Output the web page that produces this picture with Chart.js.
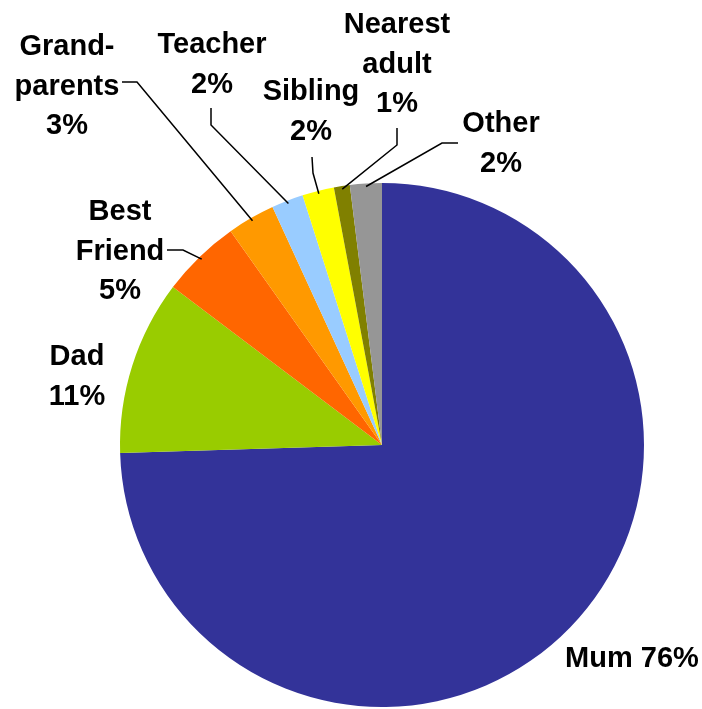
<!DOCTYPE html>
<html>
<head>
<meta charset="utf-8">
<script src="https://cdn.jsdelivr.net/npm/chart.js@4"></script>
<style>
  html, body { margin: 0; padding: 0; background: #fff; }
  #wrap { width: 702px; height: 709px; }
</style>
</head>
<body>
<div id="wrap"><canvas id="pie" width="702" height="709"></canvas></div>
<script>
// Dados do gráfico
const categories = ['Mum', 'Dad', 'Best Friend', 'Grandparents', 'Teacher', 'Sibling', 'Nearest adult', 'Other'];
const percentages = [76, 11, 5, 3, 2, 2, 1, 2];
const labelLines = [['Mum'], ['Dad'], ['Best', 'Friend'], ['Grand-', 'parents'], ['Teacher'], ['Sibling'], ['Nearest', 'adult'], ['Other']];
const colors = ['#333399', '#99CC00', '#FF6600', '#FF9900', '#99CCFF', '#FFFF00', '#808000', '#969696'];

// Posição dos rótulos (layout): centro x, primeira linha base y, pontos da linha guia
const labelLayout = [
    { x: 632, y: 667, inline: true },
    { x: 77, y: 365 },
    { x: 120, y: 220, end: [167, 250], elbow: [183, 250] },
    { x: 67, y: 55, end: [122, 82], elbow: [137, 82] },
    { x: 212, y: 53, end: [211, 108], elbow: [211, 125] },
    { x: 311, y: 100, end: [312, 157], elbow: [313, 173] },
    { x: 397, y: 33, end: [397, 128], elbow: [397, 145] },
    { x: 501, y: 132, end: [458, 143], elbow: [442, 143] }
];

const labelPlugin = {
    id: 'labels',
    afterDraw(chart) {
        const ctx = chart.ctx;
        const arcs = chart.getDatasetMeta(0).data;
        ctx.save();
        ctx.font = 'bold 29px "Liberation Sans", Arial, sans-serif';
        ctx.fillStyle = '#000';
        ctx.textAlign = 'center';
        ctx.textBaseline = 'alphabetic';
        ctx.strokeStyle = '#000';
        ctx.lineWidth = 1.5;
        arcs.forEach((arc, i) => {
            const lay = labelLayout[i];
            const pct = percentages[i] + '%';
            const lines = lay.inline ? [labelLines[i].join(' ') + ' ' + pct] : [...labelLines[i], pct];
            lines.forEach((t, k) => ctx.fillText(t, lay.x, lay.y + k * 39.5));
            if (lay.end) {
                const mid = (arc.startAngle + arc.endAngle) / 2;
                const r = arc.outerRadius - 3;
                const ax = arc.x + Math.cos(mid) * r;
                const ay = arc.y + Math.sin(mid) * r;
                ctx.beginPath();
                ctx.moveTo(lay.end[0], lay.end[1]);
                ctx.lineTo(lay.elbow[0], lay.elbow[1]);
                ctx.lineTo(ax, ay);
                ctx.stroke();
            }
        });
        ctx.restore();
    }
};

new Chart(document.getElementById('pie'), {
    type: 'pie',
    data: {
        labels: categories,
        datasets: [{
            data: percentages,
            backgroundColor: colors,
            borderWidth: 0
        }]
    },
    options: {
        responsive: false,
        animation: false,
        layout: { padding: { left: 120, right: 58, top: 183, bottom: 2 } },
        plugins: {
            legend: { display: false },
            tooltip: { enabled: false }
        }
    },
    plugins: [labelPlugin]
});
</script>
</body>
</html>
